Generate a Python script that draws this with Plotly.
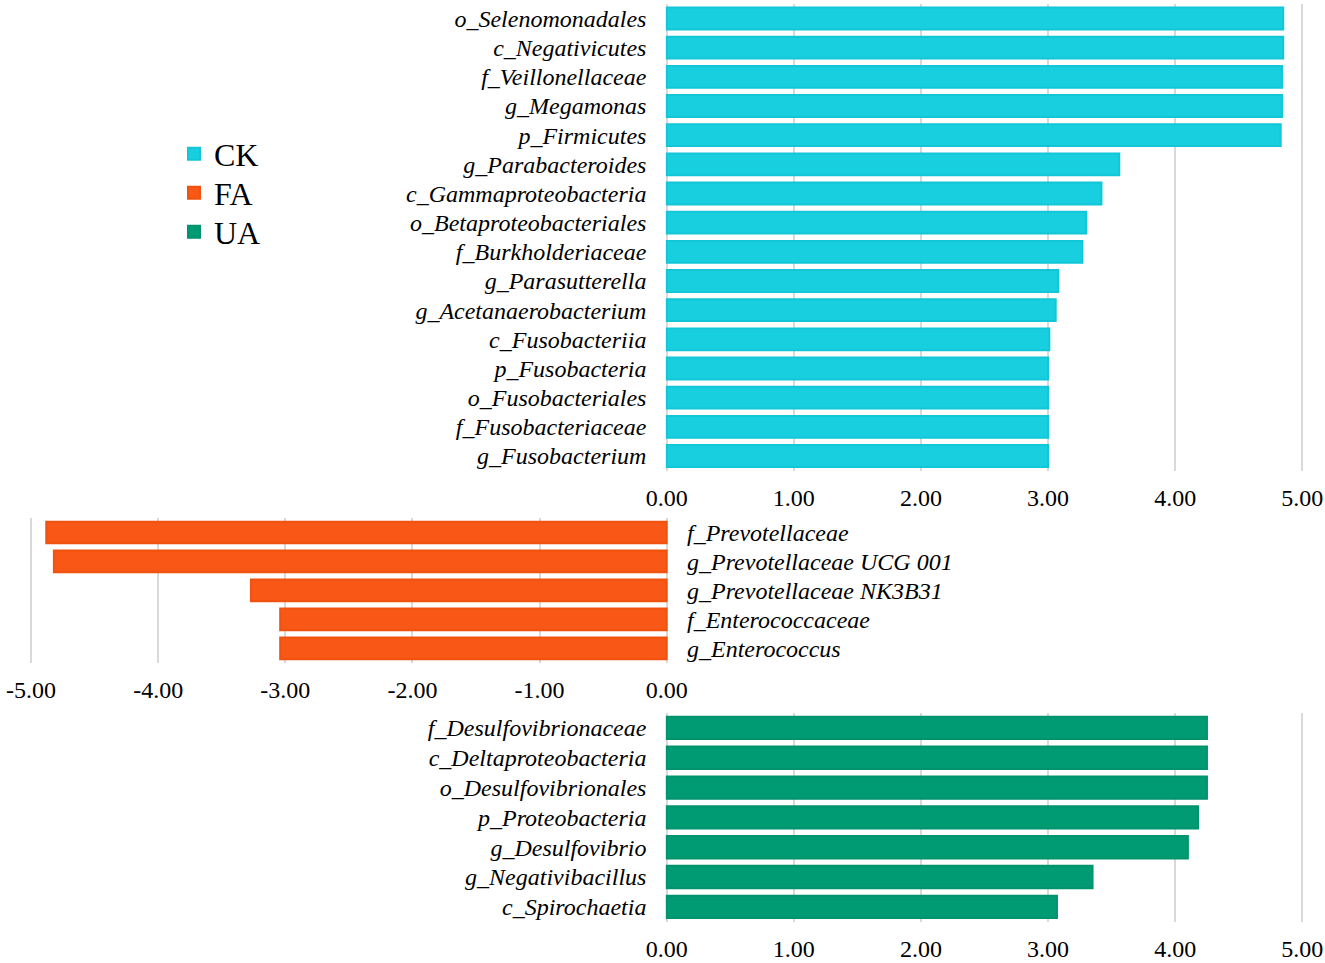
import plotly.graph_objects as go

# ---------------- data ----------------
ck_taxa = ["o_Selenomonadales", "c_Negativicutes", "f_Veillonellaceae", "g_Megamonas",
           "p_Firmicutes", "g_Parabacteroides", "c_Gammaproteobacteria",
           "o_Betaproteobacteriales", "f_Burkholderiaceae", "g_Parasutterella",
           "g_Acetanaerobacterium", "c_Fusobacteriia", "p_Fusobacteria",
           "o_Fusobacteriales", "f_Fusobacteriaceae", "g_Fusobacterium"]
ck_lda = [4.85, 4.85, 4.84, 4.84, 4.83, 3.56, 3.42, 3.30, 3.27, 3.08, 3.06,
          3.01, 3.00, 3.00, 3.00, 3.00]

fa_taxa = ["f_Prevotellaceae", "g_Prevotellaceae UCG 001", "g_Prevotellaceae NK3B31",
           "f_Enterococcaceae", "g_Enterococcus"]
fa_lda = [-4.88, -4.82, -3.27, -3.04, -3.04]

ua_taxa = ["f_Desulfovibrionaceae", "c_Deltaproteobacteria", "o_Desulfovibrionales",
           "p_Proteobacteria", "g_Desulfovibrio", "g_Negativibacillus", "c_Spirochaetia"]
ua_lda = [4.25, 4.25, 4.25, 4.18, 4.10, 3.35, 3.07]

pos_ticks = [0, 1, 2, 3, 4, 5]
neg_ticks = [-5, -4, -3, -2, -1, 0]
pos_labels = ["0.00", "1.00", "2.00", "3.00", "4.00", "5.00"]
neg_labels = ["-5.00", "-4.00", "-3.00", "-2.00", "-1.00", "0.00"]

# ---------------- styling ----------------
W, H = 1325, 963
C_CK, C_FA, C_UA = "#17CFDF", "#F95715", "#009A73"
GRID = "#D9D9D9"
SERIF = "Liberation Serif, 'Times New Roman', Times, serif"
PAD = 0.01  # tiny range padding so edge gridlines are drawn
UNIT = 127.1  # px per LDA unit

def px_x(v):
    return v / W

def px_y(v):
    return 1 - v / H

fig = go.Figure()
fig.add_trace(go.Bar(y=ck_taxa, x=ck_lda, orientation="h", name="CK",
                     marker=dict(color=C_CK, line=dict(color="#12C6D7", width=2)),
                     xaxis="x", yaxis="y", legend="legend"))
fig.add_trace(go.Bar(y=fa_taxa, x=fa_lda, orientation="h", name="FA",
                     marker=dict(color=C_FA, line=dict(color="#F0520F", width=2)),
                     xaxis="x2", yaxis="y2", legend="legend2"))
fig.add_trace(go.Bar(y=ua_taxa, x=ua_lda, orientation="h", name="UA",
                     marker=dict(color=C_UA, line=dict(color="#00936D", width=2)),
                     xaxis="x3", yaxis="y3", legend="legend3"))

xcommon = dict(showgrid=True, gridcolor=GRID, gridwidth=1.5, zeroline=False,
               showline=False, ticks="", tickmode="array", automargin=False,
               tickfont=dict(family=SERIF, size=24, color="black"),
               ticklabelstandoff=10, fixedrange=True)
ycommon = dict(showgrid=False, zeroline=False, showline=False, ticks="",
               autorange="reversed", type="category", dtick=1, automargin=False,
               tickfont=dict(family=SERIF, size=24, color="black", style="italic"),
               fixedrange=True)

x0_pos, x5_pos = 666.7, 1302.3
x_pos_dom = [px_x(x0_pos - PAD * UNIT), px_x(x5_pos + PAD * UNIT)]
xm5, x0_neg = 31.0, 666.7
x_neg_dom = [px_x(xm5 - PAD * UNIT), px_x(x0_neg + PAD * UNIT)]

leg = dict(xanchor="left", yanchor="middle",
           font=dict(family=SERIF, size=32, color="black"),
           bgcolor="rgba(0,0,0,0)")

LEG_X = 174

fig.update_layout(
    width=W, height=H,
    margin=dict(l=0, r=0, t=0, b=0, autoexpand=False),
    paper_bgcolor="white", plot_bgcolor="white",
    bargap=0.25,
    xaxis=dict(domain=x_pos_dom, range=[-PAD, 5 + PAD], tickvals=pos_ticks,
               ticktext=pos_labels, anchor="y", **xcommon),
    yaxis=dict(domain=[px_y(470.6), px_y(3.9)], anchor="x", ticklabelstandoff=18, **ycommon),
    xaxis2=dict(domain=x_neg_dom, range=[-5 - PAD, PAD], tickvals=neg_ticks,
                ticktext=neg_labels, anchor="y2", **xcommon),
    yaxis2=dict(domain=[px_y(663), px_y(518)], anchor="x2", side="right",
                ticklabelstandoff=18, **ycommon),
    xaxis3=dict(domain=x_pos_dom, range=[-PAD, 5 + PAD], tickvals=pos_ticks,
                ticktext=pos_labels, anchor="y3", **xcommon),
    yaxis3=dict(domain=[px_y(921.8), px_y(713)], anchor="x3", ticklabelstandoff=18, **ycommon),
    showlegend=True,
    legend=dict(x=px_x(LEG_X), y=px_y(154), **leg),
    legend2=dict(x=px_x(LEG_X), y=px_y(193), **leg),
    legend3=dict(x=px_x(LEG_X), y=px_y(232), **leg),
)

fig.write_html(
    "out.html",
    config={"displayModeBar": False},
    post_script="document.body.style.margin='0';document.body.style.padding='0';"
                "document.documentElement.style.overflow='hidden';",
)
